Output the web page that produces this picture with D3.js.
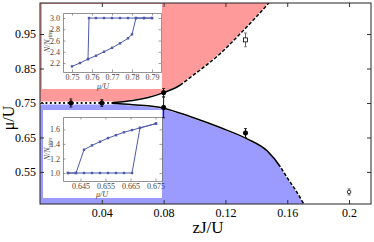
<!DOCTYPE html>
<html>
<head>
<meta charset="utf-8">
<script src="https://cdn.jsdelivr.net/npm/d3@7"></script>
<style>
  body { margin: 0; background: #fff; }
  svg { display: block; font-family: "Liberation Serif", "DejaVu Serif", serif; }
</style>
</head>
<body>
<svg id="chart" width="374" height="242"></svg>
<script>
// phase boundaries (zJ/U, mu/U)
var upperZJ = [0, 0.045, 0.06, 0.07, 0.08, 0.09, 0.0975, 0.117, 0.13, 0.14, 0.149];
var upperMu = [0.75, 0.75, 0.757, 0.766, 0.780, 0.800, 0.825, 0.895, 0.953, 1.0, 1.045];
var upperDashFrom = 0.0925;
var lowerZJ = [0, 0.045, 0.06, 0.08, 0.0975, 0.117, 0.134, 0.147, 0.1555, 0.16, 0.165, 0.171];
var lowerMu = [0.75, 0.75, 0.745, 0.735, 0.71, 0.678, 0.646, 0.611, 0.565, 0.533, 0.50, 0.455];
var lowerDashFrom = 0.1555;
var dotLineEnd = 0.047;

// measured points with error bars
var ptZJ = [0.02, 0.04, 0.08, 0.08, 0.133, 0.133, 0.2];
var ptMu = [0.75, 0.75, 0.78, 0.737, 0.663, 0.933, 0.492];
var ptErr = [0.012, 0.01, 0.012, 0.03, 0.013, 0.02, 0.009];
var ptOpen = [0, 0, 0, 0, 0, 2, 1];

var xTicks = [0.04, 0.08, 0.12, 0.16, 0.2];
var yTicks = [0.55, 0.65, 0.75, 0.85, 0.95];

// upper inset
var inAmuUp = [0.750, 0.754, 0.758, 0.762, 0.766, 0.770, 0.774, 0.778, 0.780, 0.782, 0.786, 0.790];
var inAnUp = [2.14, 2.20, 2.27, 2.33, 2.40, 2.47, 2.55, 2.64, 2.71, 3.0, 3.0, 3.0];
var inAmuDown = [0.790, 0.786, 0.782, 0.778, 0.774, 0.770, 0.766, 0.762, 0.7585, 0.758];
var inAnDown = [3.0, 3.0, 3.0, 3.0, 3.0, 3.0, 3.0, 3.0, 3.0, 2.27];
var inAxTicks = [0.75, 0.76, 0.77, 0.78, 0.79];
var inAyTicks = [2.2, 2.4, 2.6, 2.8, 3.0];

// lower inset
var inBmu = [0.6400, 0.6432, 0.6464, 0.6496, 0.6528, 0.6560, 0.6592, 0.6624, 0.6656, 0.6688, 0.6752];
var inBnFast = [1.0, 1.0, 1.32, 1.38, 1.43, 1.48, 1.52, 1.56, 1.59, 1.62, 1.68];
var inBnSlow = [1.0, 1.0, 1.0, 1.0, 1.0, 1.0, 1.0, 1.0, 1.0, 1.62, 1.68];
var inBxTicks = [0.645, 0.655, 0.665, 0.675];
var inByTicks = [1.0, 1.2, 1.4, 1.6];

var svg = d3.select("#chart");
var L = 40, R = 371, T = 3, B = 204;

var x = d3.scaleLinear().domain([0, 0.2142]).range([L, R]);
var y = d3.scaleLinear().domain([0.457, 1.04]).range([B, T]);

svg.append("clipPath").attr("id", "plotclip")
  .append("rect").attr("x", L).attr("y", T).attr("width", R - L).attr("height", B - T);

var plot = svg.append("g").attr("clip-path", "url(#plotclip)");

function zip(a, b) {
  return a.map(function(d, i) { return [d, b[i]]; });
}
var upper = zip(upperZJ, upperMu);
var lower = zip(lowerZJ, lowerMu);

// red region above the lobe
plot.append("path")
  .datum(upper)
  .attr("fill", "#ff9a9a")
  .attr("d", d3.area().curve(d3.curveMonotoneX)
    .x(function(d) { return x(d[0]); })
    .y0(function(d) { return y(d[1]) - 1; })
    .y1(T));

// blue region below the lobe
plot.append("path")
  .datum(lower)
  .attr("fill", "#9a9aff")
  .attr("d", d3.area().curve(d3.curveMonotoneX)
    .x(function(d) { return x(d[0]); })
    .y0(function(d) { return y(d[1]) + 1; })
    .y1(B));

// boundary lines: one curve, solid up to dashFrom, dashed after it
var line = d3.line().curve(d3.curveMonotoneX)
  .x(function(d) { return x(d[0]); })
  .y(function(d) { return y(d[1]); });

function drawBoundary(pts, dashFrom) {
  var used = pts.filter(function(d) { return d[0] >= dotLineEnd - 0.003; });
  plot.append("path").datum(used).attr("fill", "none").attr("stroke", "#000")
    .attr("stroke-width", 1.5)
    .attr("d", line)
    .each(function() {
      var total = this.getTotalLength();
      var lo = 0, hi = total, target = x(dashFrom);
      for (var k = 0; k < 30; k++) {
        var mid = (lo + hi) / 2;
        if (this.getPointAtLength(mid).x < target) lo = mid; else hi = mid;
      }
      var pattern = [lo, 1.8];
      var acc = lo;
      while (acc < total) { pattern.push(3.6, 1.8); acc += 5.4; }
      d3.select(this).attr("stroke-dasharray", pattern.join(","));
    });
}
drawBoundary(upper, upperDashFrom);
drawBoundary(lower, lowerDashFrom);

// dotted line at mu = 0.75
plot.append("line")
  .attr("x1", x(0)).attr("x2", x(dotLineEnd))
  .attr("y1", y(0.75)).attr("y2", y(0.75))
  .attr("stroke", "#fff").attr("stroke-width", 3);
plot.append("line")
  .attr("x1", x(0) + 2).attr("x2", x(dotLineEnd))
  .attr("y1", y(0.75)).attr("y2", y(0.75))
  .attr("stroke", "#000").attr("stroke-width", 2.2)
  .attr("stroke-linecap", "round").attr("stroke-dasharray", "0.1,4.3");

// insets
function drawInset(o) {
  var g = svg.append("g");
  g.append("rect").attr("x", o.box[0]).attr("y", o.box[1])
    .attr("width", o.box[2] - o.box[0]).attr("height", o.box[3] - o.box[1])
    .attr("fill", "#fff");
  var ix = d3.scaleLinear().domain(o.xDom).range([o.frame[0], o.frame[2]]);
  var iy = d3.scaleLinear().domain(o.yDom).range([o.frame[3], o.frame[1]]);

  var ax = g.append("g").attr("transform", "translate(0," + o.frame[3] + ")")
    .call(d3.axisBottom(ix).tickValues(o.xTicks).tickSizeInner(-2.5).tickSizeOuter(0)
      .tickPadding(2).tickFormat(d3.format(o.xFmt)));
  var axT = g.append("g").attr("transform", "translate(0," + o.frame[1] + ")")
    .call(d3.axisTop(ix).tickValues(o.xTicks).tickSizeInner(-2.5).tickSizeOuter(0)
      .tickFormat(""));
  var ay = g.append("g").attr("transform", "translate(" + o.frame[0] + ",0)")
    .call(d3.axisLeft(iy).tickValues(o.yTicks).tickSizeInner(-2.5).tickSizeOuter(0)
      .tickPadding(3).tickFormat(d3.format(".1f")));
  var ayR = g.append("g").attr("transform", "translate(" + o.frame[2] + ",0)")
    .call(d3.axisRight(iy).tickValues(o.yTicks).tickSizeInner(-2.5).tickSizeOuter(0)
      .tickFormat(""));
  [ax, axT, ay, ayR].forEach(function(a) {
    a.selectAll("path.domain").attr("stroke", "#777").attr("stroke-width", 0.8);
    a.selectAll(".tick line").attr("stroke", "#777").attr("stroke-width", 0.7);
    a.selectAll("text").attr("font-family", "Liberation Serif, serif")
      .attr("font-size", 8).attr("fill", "#444");
  });

  var il = d3.line().x(function(d) { return ix(d[0]); }).y(function(d) { return iy(d[1]); });
  o.series.forEach(function(s) {
    g.append("path").datum(s).attr("fill", "none").attr("stroke", "#4c5aa8")
      .attr("stroke-width", 1).attr("d", il);
    g.selectAll(null).data(s).enter().append("rect")
      .attr("x", function(d) { return ix(d[0]) - 1.2; })
      .attr("y", function(d) { return iy(d[1]) - 1.2; })
      .attr("width", 2.4).attr("height", 2.4).attr("fill", "#4c5aa8");
  });

  g.append("text").attr("x", o.xLabel[0]).attr("y", o.xLabel[1])
    .attr("text-anchor", "middle").attr("font-size", 8).attr("font-style", "italic")
    .attr("fill", "#444").text("\u03bc/U");
  var yl = g.append("text")
    .attr("transform", "translate(" + o.yLabel[0] + "," + o.yLabel[1] + ") rotate(-90)")
    .attr("text-anchor", "middle").attr("font-size", 8).attr("font-style", "italic")
    .attr("fill", "#444");
  yl.append("tspan").text("N/N");
  yl.append("tspan").attr("font-size", 5.5).attr("dy", 2).text("sites");
}

drawInset({
  box: [42, 4, 162, 89], frame: [63, 13, 161, 72],
  xDom: [0.7455, 0.7945], yDom: [2.04, 3.09],
  xTicks: inAxTicks, yTicks: inAyTicks, xFmt: ".2f",
  series: [zip(inAmuUp, inAnUp), zip(inAmuDown, inAnDown)],
  xLabel: [103, 89], yLabel: [50, 41]
});

drawInset({
  box: [43, 110, 162, 198], frame: [63, 117, 162, 181],
  xDom: [0.638, 0.6776], yDom: [0.89, 1.77],
  xTicks: inBxTicks, yTicks: inByTicks, xFmt: ".3f",
  series: [zip(inBmu, inBnFast), zip(inBmu, inBnSlow)],
  xLabel: [102, 197], yLabel: [50, 149]
});

// data points with error bars
var pts = ptZJ.map(function(d, i) { return { x: d, y: ptMu[i], e: ptErr[i], open: ptOpen[i] }; });
var pg = svg.append("g");
pg.selectAll("line.err").data(pts).enter().append("line")
  .attr("x1", function(d) { return x(d.x); }).attr("x2", function(d) { return x(d.x); })
  .attr("y1", function(d) { return y(d.y + d.e); }).attr("y2", function(d) { return y(d.y - d.e); })
  .attr("stroke", function(d) { return d.open ? "#666" : "#111"; }).attr("stroke-width", 1);
[1, -1].forEach(function(sgn) {
  pg.selectAll(null).data(pts).enter().append("line")
    .attr("x1", function(d) { return x(d.x) - 1.5; }).attr("x2", function(d) { return x(d.x) + 1.5; })
    .attr("y1", function(d) { return y(d.y + sgn * d.e); }).attr("y2", function(d) { return y(d.y + sgn * d.e); })
    .attr("stroke", function(d) { return d.open ? "#666" : "#111"; }).attr("stroke-width", 0.8);
});
pg.selectAll("circle").data(pts.filter(function(d) { return d.open !== 2; })).enter().append("circle")
  .attr("cx", function(d) { return x(d.x); }).attr("cy", function(d) { return y(d.y); })
  .attr("r", function(d) { return d.open ? 1.8 : 2.2; })
  .attr("fill", function(d) { return d.open ? "#fff" : "#000"; })
  .attr("stroke", "#000").attr("stroke-width", 0.8);
pg.selectAll("rect").data(pts.filter(function(d) { return d.open === 2; })).enter().append("rect")
  .attr("x", function(d) { return x(d.x) - 2; }).attr("y", function(d) { return y(d.y) - 2; })
  .attr("width", 4).attr("height", 4)
  .attr("fill", "#fff").attr("stroke", "#000").attr("stroke-width", 0.8);

// main axes
function styleAxis(a) {
  a.selectAll("path.domain").remove();
  a.selectAll(".tick line").attr("stroke", "#333");
  a.selectAll("text").attr("font-family", "Liberation Serif, serif")
    .attr("font-size", 12).attr("fill", "#000");
}
styleAxis(svg.append("g").attr("transform", "translate(0," + B + ")")
  .call(d3.axisBottom(x).tickValues(xTicks).tickSizeInner(-4).tickSizeOuter(0)
    .tickPadding(4).tickFormat(function(d) { return String(d); })));
styleAxis(svg.append("g").attr("transform", "translate(0," + T + ")")
  .call(d3.axisTop(x).tickValues(xTicks).tickSizeInner(-4).tickSizeOuter(0).tickFormat("")));
styleAxis(svg.append("g").attr("transform", "translate(" + L + ",0)")
  .call(d3.axisLeft(y).tickValues(yTicks).tickSizeInner(-4).tickSizeOuter(0)
    .tickPadding(4).tickFormat(d3.format(".2f"))));
styleAxis(svg.append("g").attr("transform", "translate(" + R + ",0)")
  .call(d3.axisRight(y).tickValues(yTicks).tickSizeInner(-4).tickSizeOuter(0).tickFormat("")));

svg.append("rect").attr("x", L).attr("y", T).attr("width", R - L).attr("height", B - T)
  .attr("fill", "none").attr("stroke", "#222").attr("stroke-width", 1);

svg.append("text").attr("x", 208).attr("y", 233).attr("text-anchor", "middle")
  .attr("font-size", 17).text("zJ/U");
svg.append("text").attr("transform", "translate(14,118) rotate(-90)")
  .attr("text-anchor", "middle").attr("font-size", 16).text("\u03bc/U");
</script>
</body>
</html>
